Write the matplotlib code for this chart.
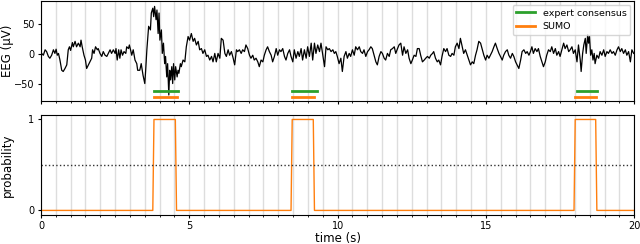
import numpy as np
import matplotlib
matplotlib.use("Agg")
import matplotlib.pyplot as plt
from matplotlib.ticker import MultipleLocator

# EEG trace (time in s, amplitude in uV)
eeg_t = [0.02, 0.08, 0.14, 0.19, 0.25, 0.30, 0.36, 0.42, 0.47, 0.51, 0.55, 0.59, 0.64, 0.70,
         0.75, 0.81, 0.87, 0.92, 0.96, 1.00, 1.06, 1.09, 1.15, 1.20, 1.26, 1.32, 1.35, 1.39,
         1.45, 1.50, 1.54, 1.60, 1.65, 1.71, 1.74, 1.79, 1.84, 1.90, 1.93, 1.99, 2.05, 2.10,
         2.16, 2.22, 2.27, 2.33, 2.38, 2.44, 2.50, 2.53, 2.57, 2.62, 2.66, 2.70, 2.75, 2.80,
         2.86, 2.89, 2.95, 2.98, 3.02, 3.06, 3.11, 3.17, 3.23, 3.26,
         3.33, 3.38, 3.44, 3.50, 3.53, 3.57, 3.63, 3.69, 3.72, 3.77, 3.80, 3.83, 3.88, 3.91,
         3.95, 3.98, 4.01, 4.06, 4.09, 4.13, 4.17, 4.20, 4.24, 4.27, 4.31, 4.34, 4.37, 4.41,
         4.44, 4.47, 4.51, 4.54, 4.59, 4.62, 4.65, 4.70, 4.73, 4.79, 4.85, 4.90, 4.96, 5.01,
         5.07, 5.13, 5.18, 5.24, 5.30, 5.35, 5.41, 5.46, 5.52, 5.58, 5.63, 5.69, 5.75, 5.80,
         5.86, 5.91, 5.97, 6.03, 6.08, 6.14, 6.20, 6.25, 6.31, 6.36, 6.42, 6.48, 6.53, 6.59,
         6.63, 6.69, 6.75, 6.80, 6.86, 6.91, 6.97, 7.03, 7.08, 7.14, 7.19, 7.25, 7.31, 7.36,
         7.42, 7.48, 7.53, 7.59, 7.64, 7.70, 7.76, 7.81, 7.87, 7.93, 7.98, 8.04, 8.09, 8.15,
         8.21, 8.26, 8.32, 8.38, 8.43, 8.49, 8.54, 8.60, 8.66, 8.71, 8.77, 8.82, 8.88, 8.94,
         8.99, 9.05, 9.11, 9.16, 9.22, 9.27, 9.33, 9.39, 9.44, 9.50, 9.56, 9.61, 9.67, 9.72,
         9.78, 9.84, 9.89,
         9.94, 9.99, 10.05, 10.11, 10.16, 10.22, 10.28, 10.33, 10.39, 10.44, 10.50, 10.56,
         10.61, 10.67, 10.73, 10.78, 10.84, 10.89, 10.95, 11.01, 11.06, 11.12, 11.17, 11.23,
         11.29, 11.34, 11.40, 11.46, 11.51, 11.57, 11.62, 11.68, 11.74, 11.79, 11.85, 11.91,
         11.96, 12.02, 12.07, 12.13, 12.19, 12.24, 12.30, 12.36, 12.41, 12.47, 12.52, 12.58,
         12.64, 12.69, 12.75, 12.80, 12.86, 12.92, 12.97, 13.03, 13.09, 13.14, 13.20,
         13.24, 13.30, 13.36, 13.41, 13.47, 13.52, 13.58, 13.64, 13.69, 13.75, 13.81, 13.86,
         13.92, 13.97, 14.03, 14.09, 14.14, 14.20, 14.25, 14.31, 14.37, 14.42, 14.48, 14.54,
         14.59, 14.65, 14.70, 14.76, 14.82, 14.87, 14.93, 14.99, 15.04, 15.10, 15.15, 15.21,
         15.27, 15.32, 15.38, 15.44, 15.49, 15.55, 15.60, 15.66, 15.72, 15.77, 15.83, 15.89,
         15.94, 16.00, 16.05, 16.11, 16.17, 16.22, 16.28, 16.34, 16.39, 16.45, 16.50,
         16.55, 16.60, 16.66, 16.72, 16.77, 16.83, 16.89, 16.94, 17.00, 17.05, 17.11, 17.17,
         17.22, 17.28, 17.34, 17.39, 17.45, 17.50, 17.56, 17.62, 17.67, 17.73, 17.79, 17.84,
         17.90, 17.95, 18.01, 18.07, 18.12, 18.18, 18.21, 18.26, 18.30, 18.35, 18.38, 18.43,
         18.46, 18.49, 18.53, 18.57, 18.61, 18.65, 18.68, 18.74, 18.80, 18.85, 18.91, 18.97,
         19.02, 19.08, 19.13, 19.19, 19.25, 19.30, 19.36, 19.42, 19.47, 19.53, 19.58, 19.64,
         19.70, 19.75, 19.81, 19.87, 19.92, 19.98]
eeg_v = [1, -2, 7, 4, -4, -7, -2, 7, 1, 8, -2, 1, -10, -27,
         -29, -24, -18, 7, 12, 6, 19, 12, 21, 12, 18, 12, 23, 12,
         -2, -10, -24, -18, -13, -7, 7, 1, 12, 7, 9, 1, -4, 4,
         -2, -4, 1, 7, 1, 7, 1, 9, -10, 7, -7, 7, -2, 4,
         1, 12, 9, 15, 7, -2, 7, -10, -16, -27,
         -27, -16, -35, -49, -27, 7, 46, 40, 68, 76, 62, 79, 57, 73,
         34, 68, 23, 40, 1, 18, -16, -4, -38, -16, -68, -27, -43, -21,
         -49, -16, -43, -21, -38, -27, -32, -16, -21, -10, -13, 12, 29, 23,
         34, 21, 26, 15, 21, 7, 9, 1, 7, -4, -2, -10, -4, -13,
         1, -13, 1, -7, 26, 23, 1, -4, 7, -2, 4, -7, -18, 7,
         4, 7, 1, 7, 4, 15, 9, -2, -7, -2, -10, -7, -13, -21,
         -10, -13, -2, 7, 12, 4, -2, -13, -4, 9, -2, 7, 4, 9,
         -4, -10, 1, 7, -4, -13, 7, -7, 4, -4, 9, -10, 7, -7,
         12, -4, 18, -10, 18, 1, 15, 4, 18, -2, -21, 12, 7, 9,
         4, 7, 1,
         4, -4, -16, -7, -29, -4, 4, -7, 1, -4, 7, -2,
         12, 7, 12, 4, 1, 7, -4, 4, 7, 12, 9, -2,
         -13, -18, -4, 4, 1, -7, -10, 1, -4, 7, 9, 12,
         1, 9, 15, 18, -2, 12, 1, 7, -7, -16, -10, -2,
         -4, 9, 9, -2, -13, -10, -7, -4, -7, -2, 1,
         4, -7, -13, -10, -18, -4, 9, 4, 9, -2, -4, 1,
         -2, 12, 18, 9, 26, 12, 1, 7, -2, -10, -18, -13,
         -16, -2, 7, 21, 18, 9, -2, -10, -2, -7, -2, 4,
         12, 18, 9, 1, -4, -10, -2, 4, 7, -2, -7, 1,
         -4, -13, -18, -24, -10, 4, 7, 1, 4, -2, 4,
         12, 1, 9, 4, 9, -4, -13, -21, -13, -2, 7, 4,
         12, 1, 9, -2, 4, -4, 7, 18, 9, 15, 4, 7,
         12, 1, 7, -13, 15, -10, -29, 1, 15, 26, 1, 32,
         18, 29, -2, 7, -10, 1, -16, -2, -7, 4, -2, 7,
         -4, 4, 1, 7, 1, 4, -2, 7, 12, 4, 9, 1,
         7, -2, 4, -13, 7, 1]

# model output probability (SUMO)
prob_t = [0, 3.77, 3.81, 4.53, 4.57, 8.43, 8.47, 9.18, 9.22, 17.97, 18.01, 18.70, 18.74, 20]
prob_v = [0, 0, 1, 1, 0, 0, 1, 1, 0, 0, 1, 1, 0, 0]

# detected spindle intervals (start, end) in s
expert_events = [(3.80, 4.63), (8.47, 9.30), (18.07, 18.76)]
sumo_events = [(3.80, 4.58), (8.47, 9.20), (18.00, 18.72)]

plt.rcParams['font.size'] = 7
plt.rcParams['axes.labelsize'] = 8.5
plt.rcParams['xtick.major.size'] = 2.5
plt.rcParams['xtick.minor.size'] = 1.5
plt.rcParams['ytick.major.size'] = 2.5
plt.rcParams['xtick.major.pad'] = 2.2
plt.rcParams['ytick.major.pad'] = 2.4
plt.rcParams['axes.labelpad'] = 2.0
plt.rcParams['axes.linewidth'] = 0.8

fig = plt.figure(figsize=(6.4, 2.44), dpi=100)
ax1 = fig.add_axes([0.064, 0.586, 0.927, 0.41])
ax2 = fig.add_axes([0.064, 0.119, 0.927, 0.41], sharex=ax1)

ax1.plot(eeg_t, eeg_v, color='black', lw=0.9)
for i, (s, e) in enumerate(expert_events):
    ax1.plot([s, e], [-61, -61], color='tab:green', lw=2,
             label='expert consensus' if i == 0 else None)
for i, (s, e) in enumerate(sumo_events):
    ax1.plot([s, e], [-71, -71], color='tab:orange', lw=2,
             label='SUMO' if i == 0 else None)
ax1.set_ylim(-78, 88)
ax1.set_yticks([-50, 0, 50])
ax1.set_ylabel('EEG (µV)')
ax1.legend(loc='upper right', fontsize=6.8, borderaxespad=0.4)
ax1.tick_params(labelbottom=False)

ax2.plot(prob_t, prob_v, color='tab:orange', lw=1)
ax2.axhline(0.5, color='#333333', ls=':', lw=1)
ax2.set_ylim(-0.05, 1.05)
ax2.set_yticks([0, 1])
ax2.set_ylabel('probability')
ax2.set_xlabel('time (s)', labelpad=0.3)

for ax in (ax1, ax2):
    ax.set_xlim(0, 20)
    ax.xaxis.set_major_locator(MultipleLocator(5))
    ax.xaxis.set_minor_locator(MultipleLocator(0.5))
    ax.grid(True, axis='x', which='both', color='#dddddd', lw=1)
    ax.set_axisbelow(True)
    ax.yaxis.set_label_coords(-0.045, 0.5)

fig.savefig('out.png', dpi=100)
